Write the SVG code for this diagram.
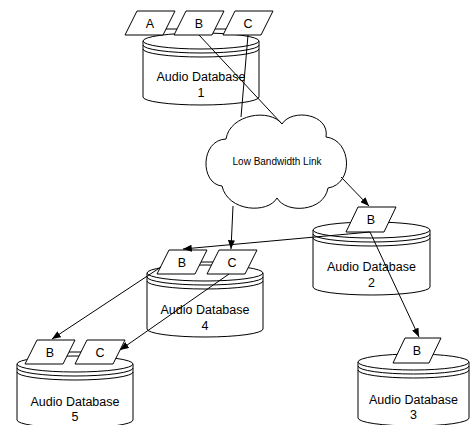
<svg xmlns="http://www.w3.org/2000/svg" width="475" height="425" viewBox="0 0 475 425">
<defs>
<style>
.shp{fill:#fff;stroke:#000;stroke-width:1}
.ln{fill:none;stroke:#000;stroke-width:1}
text{font-family:"Liberation Sans",Arial,sans-serif;font-size:12.5px;text-anchor:middle;fill:#000}
.small{font-size:10px}
</style>
<marker id="ah" viewBox="0 0 10 8" refX="10" refY="4" markerWidth="9" markerHeight="7" markerUnits="userSpaceOnUse" orient="auto">
<path d="M0,0 L10,4 L0,8 z" fill="#000"/>
</marker>
</defs>
<rect width="475" height="425" fill="#fff"/>

<g id="db1">
<path class="shp" d="M143,41 V97 A58,8 0 0 0 259,97 V41 Z"/>
<ellipse class="shp" cx="201" cy="41" rx="58" ry="8"/>
<path class="ln" d="M143,45 A58,8 0 0 0 259,45 M143,49 A58,8 0 0 0 259,49"/>
<text x="201" y="81">Audio Database</text>
<text x="201" y="97">1</text>
</g>
<g id="db1-a"><polygon class="shp" points="137,11 175,11 163,35 125,35"/><text x="150" y="27.5">A</text></g>
<g id="db1-b"><polygon class="shp" points="186,11 224,11 212,35 174,35"/><text x="199" y="27.5">B</text></g>
<g id="db1-c"><polygon class="shp" points="235,11 273,11 261,35 223,35"/><text x="248" y="27.5">C</text></g>

<g id="db2">
<path class="shp" d="M313,230 V287 A58.5,8 0 0 0 430,287 V230 Z"/>
<ellipse class="shp" cx="371.5" cy="230" rx="58.5" ry="8"/>
<path class="ln" d="M313,234 A58.5,8 0 0 0 430,234 M313,238 A58.5,8 0 0 0 430,238"/>
<text x="371.5" y="271">Audio Database</text>
<text x="371.5" y="287">2</text>
</g>
<g id="db2-b"><polygon class="shp" points="358,207 396,207 384,232 346,232"/><text x="371" y="224">B</text></g>

<g id="db3">
<path class="shp" d="M358,362 V418 A55.5,8 0 0 0 469,418 V362 Z"/>
<ellipse class="shp" cx="413.5" cy="362" rx="55.5" ry="8"/>
<path class="ln" d="M358,366 A55.5,8 0 0 0 469,366 M358,370 A55.5,8 0 0 0 469,370"/>
<text x="413.5" y="404">Audio Database</text>
<text x="413.5" y="419">3</text>
</g>
<g id="db3-b"><polygon class="shp" points="405,338 441,338 429,363 393,363"/><text x="417" y="355">B</text></g>

<g id="db4">
<path class="shp" d="M147,273 V329 A58,8 0 0 0 263,329 V273 Z"/>
<ellipse class="shp" cx="205" cy="273" rx="58" ry="8"/>
<path class="ln" d="M147,277 A58,8 0 0 0 263,277 M147,281 A58,8 0 0 0 263,281"/>
<text x="205" y="314">Audio Database</text>
<text x="205" y="330">4</text>
</g>
<g id="db4-b"><polygon class="shp" points="169,250 207,250 195,274 157,274"/><text x="182" y="266.5">B</text></g>
<g id="db4-c"><polygon class="shp" points="219,250 257,250 245,274 207,274"/><text x="232" y="266.5">C</text></g>

<g id="db5">
<path class="shp" d="M17,364 V420 A58,8 0 0 0 133,420 V364 Z"/>
<ellipse class="shp" cx="75" cy="364" rx="58" ry="8"/>
<path class="ln" d="M17,368 A58,8 0 0 0 133,368 M17,372 A58,8 0 0 0 133,372"/>
<text x="75" y="406">Audio Database</text>
<text x="75" y="421">5</text>
</g>
<g id="db5-b"><polygon class="shp" points="37,340 75,340 63,364 25,364"/><text x="50" y="356.5">B</text></g>
<g id="db5-c"><polygon class="shp" points="87,340 125,340 113,364 75,364"/><text x="100" y="356.5">C</text></g>

<g id="cloud">
<path class="shp" d="M226,139 C230,114 270,108 282,124 C292,108 330,114 326,137 C352,140 354,184 328,188 C324,212 286,214 277,198 C268,214 228,212 222,186 C200,184 200,140 226,139 Z"/>
<text class="small" x="277" y="165">Low Bandwidth Link</text>
</g>

<g id="connectors">
<line class="ln" x1="199" y1="35" x2="282" y2="124"/>
<line class="ln" x1="248" y1="35" x2="241" y2="117"/>
<line class="ln" x1="341" y1="177" x2="369" y2="206" marker-end="url(#ah)"/>
<line class="ln" x1="233" y1="206" x2="231" y2="249" marker-end="url(#ah)"/>
<line class="ln" x1="370" y1="232" x2="183" y2="249" marker-end="url(#ah)"/>
<line class="ln" x1="370" y1="232" x2="419" y2="337" marker-end="url(#ah)"/>
<line class="ln" x1="161" y1="267" x2="52" y2="339" marker-end="url(#ah)"/>
<line class="ln" x1="229" y1="274" x2="120" y2="350" marker-end="url(#ah)"/>
<line class="ln" x1="166" y1="29" x2="177" y2="29"/>
<line class="ln" x1="215" y1="29" x2="226" y2="29"/>
<line class="ln" x1="201" y1="262" x2="213" y2="262"/>
<line class="ln" x1="69" y1="352" x2="81" y2="352"/>
</g>
</svg>
